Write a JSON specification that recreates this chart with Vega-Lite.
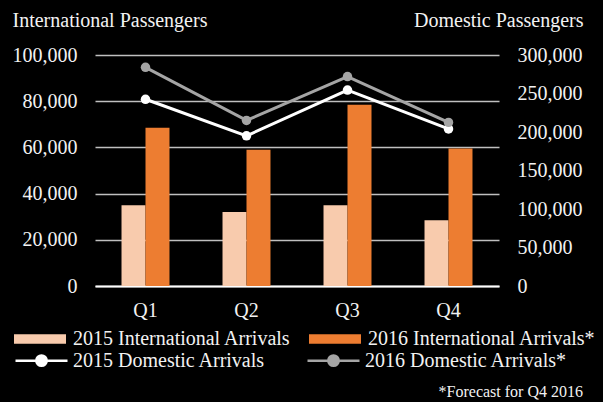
{
  "$schema": "https://vega.github.io/schema/vega-lite/v6.json",
  "width": 404,
  "height": 231,
  "autosize": {"type": "none"},
  "padding": {"left": 95, "top": 55, "right": 104, "bottom": 116},
  "background": "#000000",
  "title": {
    "text": "*Forecast for Q4 2016",
    "orient": "bottom",
    "anchor": "end",
    "frame": "group",
    "baseline": "alphabetic",
    "fontSize": 16,
    "fontWeight": "normal",
    "font": "Liberation Serif",
    "color": "#F2F2F2",
    "dx": 84,
    "offset": 26
  },
  "config": {
    "font": "Liberation Serif",
    "view": {"stroke": null},
    "axis": {
      "labelFont": "Liberation Serif",
      "titleFont": "Liberation Serif",
      "labelColor": "#F2F2F2",
      "titleColor": "#F2F2F2",
      "labelFontSize": 20,
      "titleFontSize": 20,
      "titleFontWeight": "normal",
      "ticks": false,
      "domain": false
    },
    "legend": {
      "labelFont": "Liberation Serif",
      "labelColor": "#F2F2F2",
      "labelFontSize": 20,
      "labelLimit": 400,
      "padding": 0
    }
  },
  "datasets": {
    "intl": [
      {"quarter": "Q1", "series": "2015 International Arrivals", "passengers": 35000},
      {"quarter": "Q1", "series": "2016 International Arrivals*", "passengers": 68500},
      {"quarter": "Q2", "series": "2015 International Arrivals", "passengers": 32000},
      {"quarter": "Q2", "series": "2016 International Arrivals*", "passengers": 59000},
      {"quarter": "Q3", "series": "2015 International Arrivals", "passengers": 35000},
      {"quarter": "Q3", "series": "2016 International Arrivals*", "passengers": 78500},
      {"quarter": "Q4", "series": "2015 International Arrivals", "passengers": 28500},
      {"quarter": "Q4", "series": "2016 International Arrivals*", "passengers": 59500}
    ],
    "dom": [
      {"quarter": "Q1", "series": "2015 Domestic Arrivals", "passengers": 242500},
      {"quarter": "Q2", "series": "2015 Domestic Arrivals", "passengers": 195000},
      {"quarter": "Q3", "series": "2015 Domestic Arrivals", "passengers": 254500},
      {"quarter": "Q4", "series": "2015 Domestic Arrivals", "passengers": 204000},
      {"quarter": "Q1", "series": "2016 Domestic Arrivals*", "passengers": 284000},
      {"quarter": "Q2", "series": "2016 Domestic Arrivals*", "passengers": 215000},
      {"quarter": "Q3", "series": "2016 Domestic Arrivals*", "passengers": 272000},
      {"quarter": "Q4", "series": "2016 Domestic Arrivals*", "passengers": 212500}
    ]
  },
  "layer": [
    {
      "data": {"name": "intl"},
      "mark": {"type": "bar"},
      "encoding": {
        "x": {
          "field": "quarter",
          "type": "nominal",
          "sort": ["Q1", "Q2", "Q3", "Q4"],
          "scale": {"paddingInner": 0.525, "paddingOuter": 0.2625},
          "axis": {
            "title": null,
            "labelAngle": 0,
            "labelPadding": 14,
            "domain": true,
            "domainColor": "#FFFFFF",
            "domainWidth": 2
          }
        },
        "xOffset": {
          "field": "series",
          "type": "nominal",
          "scale": {"paddingInner": 0, "paddingOuter": 0}
        },
        "y": {
          "field": "passengers",
          "type": "quantitative",
          "scale": {"domain": [0, 100000]},
          "axis": {
            "title": "International Passengers",
            "titleAngle": 0,
            "titleAlign": "left",
            "titleBaseline": "alphabetic",
            "titleX": -83,
            "titleY": -29,
            "values": [0, 20000, 40000, 60000, 80000, 100000],
            "format": ",.0f",
            "labelPadding": 18,
            "grid": true,
            "gridColor": "#BFBFBF",
            "gridWidth": 1.5
          }
        },
        "color": {
          "field": "series",
          "type": "nominal",
          "scale": {
            "domain": ["2015 International Arrivals", "2016 International Arrivals*"],
            "range": ["#F8CBAD", "#ED7D31"]
          },
          "legend": {
            "title": null,
            "orient": "none",
            "legendX": -81,
            "legendY": 258,
            "direction": "horizontal",
            "columns": 2,
            "columnPadding": 18,
            "symbolType": "M-1,-0.18H1V0.18H-1Z",
            "symbolSize": 2704,
            "symbolStrokeWidth": 0,
            "labelOffset": 7
          }
        }
      }
    },
    {
      "data": {"name": "dom"},
      "mark": {"type": "line", "strokeWidth": 3, "point": {"filled": true, "size": 90}},
      "encoding": {
        "x": {"field": "quarter", "type": "nominal", "sort": ["Q1", "Q2", "Q3", "Q4"]},
        "y": {
          "field": "passengers",
          "type": "quantitative",
          "scale": {"domain": [0, 300000]},
          "axis": {
            "orient": "right",
            "title": "Domestic Passengers",
            "titleAngle": 0,
            "titleAlign": "right",
            "titleBaseline": "alphabetic",
            "titleX": 84,
            "titleY": -29,
            "values": [0, 50000, 100000, 150000, 200000, 250000, 300000],
            "format": ",.0f",
            "labelPadding": 18,
            "grid": false
          }
        },
        "color": {
          "field": "series",
          "type": "nominal",
          "scale": {
            "domain": ["2015 Domestic Arrivals", "2016 Domestic Arrivals*"],
            "range": ["#FFFFFF", "#A5A5A5"]
          },
          "legend": {
            "title": null,
            "orient": "none",
            "legendX": -81,
            "legendY": 278,
            "direction": "horizontal",
            "columns": 2,
            "columnPadding": 36,
            "symbolType": "M-1,0H1M-0.2,0A0.2,0.2,0,1,1,0.2,0A0.2,0.2,0,1,1,-0.2,0",
            "symbolSize": 2704,
            "symbolStrokeWidth": 2.5,
            "labelOffset": 4,
            "encode": {
              "symbols": {
                "update": {
                  "fill": {"signal": "datum.value === '2015 Domestic Arrivals' ? '#FFFFFF' : '#A5A5A5'"},
                  "stroke": {"signal": "datum.value === '2015 Domestic Arrivals' ? '#FFFFFF' : '#A5A5A5'"},
                  "opacity": {"value": 1}
                }
              }
            }
          }
        }
      }
    }
  ],
  "resolve": {"scale": {"y": "independent", "color": "independent"}}
}
